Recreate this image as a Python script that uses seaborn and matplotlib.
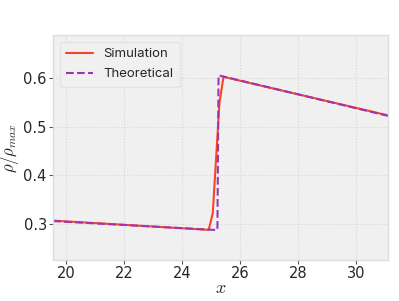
import pandas as pd
import matplotlib
matplotlib.use('Agg')
import matplotlib.pyplot as plt
import seaborn as sns

# Data
sim_x = [19.55, 24.92, 25.06, 25.29, 25.43, 31.1]
sim_y = [0.307, 0.288, 0.322, 0.548, 0.602, 0.523]
theo_x = [19.55, 25.08, 25.22, 25.26, 31.1]
theo_y = [0.306, 0.288, 0.288, 0.605, 0.522]

df_sim = pd.DataFrame({'x': sim_x, 'y': sim_y})
df_theo = pd.DataFrame({'x': theo_x, 'y': theo_y})

sns.set_style('whitegrid', {
    'axes.facecolor': '#f0f0f0',
    'axes.edgecolor': '#dddddd',
    'grid.color': '#d6d6d6',
    'grid.linestyle': ':',
    'xtick.bottom': True,
    'ytick.left': True,
})
plt.rcParams['font.family'] = ['DejaVu Sans']
plt.rcParams['mathtext.fontset'] = 'cm'

fig = plt.figure(figsize=(3.99, 3.01), dpi=100)
ax = fig.add_axes([0.133, 0.136, 0.839, 0.748])

sns.lineplot(data=df_sim, x='x', y='y', color='#fa4424', lw=1.5,
             label='Simulation', ax=ax, sort=False)
sns.lineplot(data=df_theo, x='x', y='y', color='#9b35b5', lw=1.5,
             linestyle='--', label='Theoretical', ax=ax, sort=False)

ax.set_xlim(19.55, 31.1)
ax.set_ylim(0.226, 0.688)
ax.set_xticks([20, 22, 24, 26, 28, 30])
ax.set_yticks([0.3, 0.4, 0.5, 0.6])
ax.tick_params(labelsize=10.5, length=3, color='#555555', pad=1.5)
ax.set_xlabel(r'$x$', fontsize=13)
ax.set_ylabel(r'$\rho/\rho_{max}$', fontsize=12)
ax.xaxis.set_label_coords(0.5, -0.085)
ax.yaxis.set_label_coords(-0.095, 0.5)
for s in ax.spines.values():
    s.set_linewidth(1.0)

leg = ax.legend(loc='upper left', fontsize=9.5, frameon=True, facecolor='#f0f0f0',
                edgecolor='#e4e4e4', framealpha=1, labelspacing=0.6,
                borderpad=0.5)
for t in leg.get_texts():
    t.set_family(['Inter', 'DejaVu Sans'])

fig.savefig('out.png', dpi=100)
